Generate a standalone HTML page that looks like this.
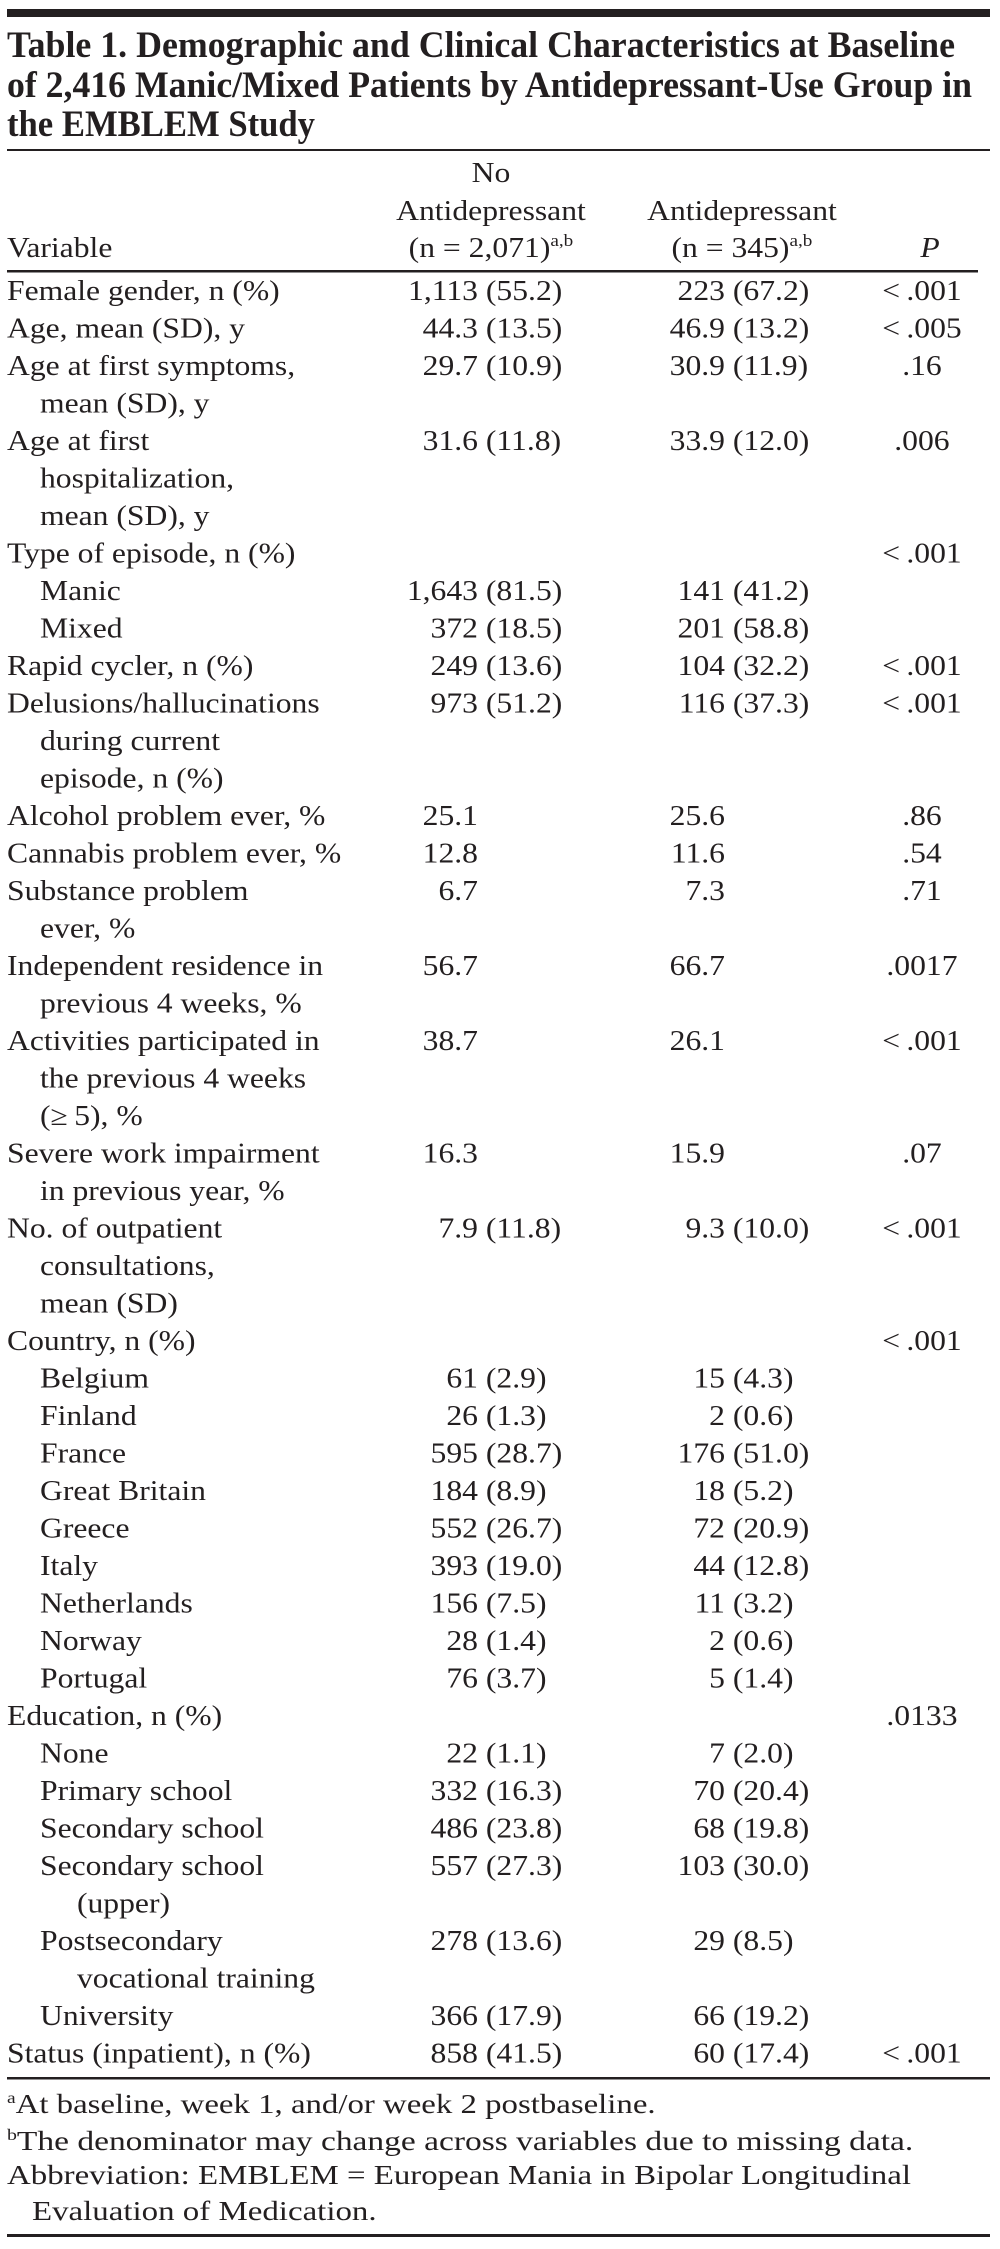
<!DOCTYPE html>
<html><head><meta charset="utf-8"><style>
html,body{margin:0;padding:0;background:#fff;}
svg{display:block;}
text{font-family:"Liberation Serif",serif;fill:#231f20;}
.b{font-size:28px;}
.f{font-size:27px;}
</style></head><body>
<svg width="1000" height="2249" viewBox="0 0 1000 2249">
<rect x="7" y="9" width="983" height="8" fill="#231f20"/>
<g font-weight="bold" font-size="37">
<text x="7" y="57" textLength="948" lengthAdjust="spacingAndGlyphs">Table 1. Demographic and Clinical Characteristics at Baseline</text>
<text x="7" y="97" textLength="965" lengthAdjust="spacingAndGlyphs">of 2,416 Manic/Mixed Patients by Antidepressant-Use Group in</text>
<text x="7" y="136" textLength="308" lengthAdjust="spacingAndGlyphs">the EMBLEM Study</text>
</g>
<rect x="7" y="149" width="983" height="2" fill="#231f20"/>
<rect x="7" y="270" width="971" height="2.5" fill="#231f20"/>
<rect x="7" y="2077" width="983" height="2.5" fill="#231f20"/>
<rect x="7" y="2234" width="983" height="3" fill="#231f20"/>

<g transform="scale(1.13 1)" class="b">
<g>
<text x="6.2" y="257">Variable</text>
<text x="434.5" y="182" text-anchor="middle">No</text>
<text x="434.5" y="220" text-anchor="middle">Antidepressant</text>
<text x="434.5" y="257" text-anchor="middle">(n = 2,071)<tspan font-size="17" dy="-11">a,b</tspan></text>
<text x="656.6" y="220" text-anchor="middle">Antidepressant</text>
<text x="656.6" y="257" text-anchor="middle">(n = 345)<tspan font-size="17" dy="-11">a,b</tspan></text>
<text x="823" y="257" text-anchor="middle" font-style="italic">P</text>
</g>
<g id="rows"></g>
</g>

<g transform="scale(1.13 1)" class="f">
<text x="6.2" y="2113" textLength="574" lengthAdjust="spacingAndGlyphs"><tspan font-size="16" dy="-10">a</tspan><tspan dy="10">At baseline, week 1, and/or week 2 postbaseline.</tspan></text>
<text x="6.2" y="2150" textLength="802" lengthAdjust="spacingAndGlyphs"><tspan font-size="16" dy="-10">b</tspan><tspan dy="10">The denominator may change across variables due to missing data.</tspan></text>
<text x="6.2" y="2184" textLength="800" lengthAdjust="spacingAndGlyphs">Abbreviation: EMBLEM = European Mania in Bipolar Longitudinal</text>
<text x="28.3" y="2220" textLength="305" lengthAdjust="spacingAndGlyphs">Evaluation of Medication.</text>
</g>
</svg>
<script>
// rows: [label, indent(0,1,2), col1 first, col1 paren, col2 first, col2 paren, p]
var labels=["Female gender, n (%)","Age, mean (SD), y","Age at first symptoms,","mean (SD), y","Age at first","hospitalization,","mean (SD), y","Type of episode, n (%)","Manic","Mixed","Rapid cycler, n (%)","Delusions/hallucinations","during current","episode, n (%)","Alcohol problem ever, %","Cannabis problem ever, %","Substance problem","ever, %","Independent residence in","previous 4 weeks, %","Activities participated in","the previous 4 weeks","(\u2265\u20095), %","Severe work impairment","in previous year, %","No. of outpatient","consultations,","mean (SD)","Country, n (%)","Belgium","Finland","France","Great Britain","Greece","Italy","Netherlands","Norway","Portugal","Education, n (%)","None","Primary school","Secondary school","Secondary school","(upper)","Postsecondary","vocational training","University","Status (inpatient), n (%)"];
var indents=[0,0,0,1,0,1,1,0,1,1,0,0,1,1,0,0,0,1,0,1,0,1,1,0,1,0,1,1,0,1,1,1,1,1,1,1,1,1,0,1,1,1,1,2,1,2,1,0];
var c1=["1,113 (55.2)","44.3 (13.5)","29.7 (10.9)","","31.6 (11.8)","","","","1,643 (81.5)","372 (18.5)","249 (13.6)","973 (51.2)","","","25.1","12.8","6.7","","56.7","","38.7","","","16.3","","7.9 (11.8)","","","","61 (2.9)","26 (1.3)","595 (28.7)","184 (8.9)","552 (26.7)","393 (19.0)","156 (7.5)","28 (1.4)","76 (3.7)","","22 (1.1)","332 (16.3)","486 (23.8)","557 (27.3)","","278 (13.6)","","366 (17.9)","858 (41.5)"];
var c2=["223 (67.2)","46.9 (13.2)","30.9 (11.9)","","33.9 (12.0)","","","","141 (41.2)","201 (58.8)","104 (32.2)","116 (37.3)","","","25.6","11.6","7.3","","66.7","","26.1","","","15.9","","9.3 (10.0)","","","","15 (4.3)","2 (0.6)","176 (51.0)","18 (5.2)","72 (20.9)","44 (12.8)","11 (3.2)","2 (0.6)","5 (1.4)","","7 (2.0)","70 (20.4)","68 (19.8)","103 (30.0)","","29 (8.5)","","66 (19.2)","60 (17.4)"];
var pv=["<.001","<.005",".16","",".006","","","<.001","","","<.001","<.001","","","",".86",".54",".71","",".0017","","<.001","",".07","","<.001","","","<.001","","","","","","","","","",".0133","","","","","","","","","<.001"];
pv[14]=".86";pv[15]=".54";pv[16]=".71";pv[17]="";pv[18]=".0017";pv[19]="";pv[20]="<.001";pv[21]="";pv[22]="";pv[23]=".07";pv[24]="";pv[25]="<.001";
var NS="http://www.w3.org/2000/svg";
var g=document.getElementById("rows");
var S=1.13, indX=[7,40,77], A1=478, A2=725, PX=922;
function mk(x,y,txt,anchor){
  var t=document.createElementNS(NS,"text");
  t.setAttribute("x",(x/S).toFixed(1));
  t.setAttribute("y",y);
  if(anchor)t.setAttribute("text-anchor",anchor);
  t.textContent=txt;
  g.appendChild(t);
  return t;
}
function cell(v,A,y,name){
  if(!v)return;
  var m=v.indexOf(" (");
  var first=m<0?v:v.slice(0,m);
  var t1=mk(A,y,first,"end");
  
  
  if(m>=0){
    var t2=mk(A,y,"\u00a0"+v.slice(m+1),"start");
    
    
  }
}
for(var i=0;i<labels.length;i++){
  var y=300+i*37.5;
  var t=mk(indX[indents[i]],y,labels[i]);
  
  
  cell(c1[i],A1,y,'no-antidepressant-value');
  cell(c2[i],A2,y,'antidepressant-value');
  if(pv[i]){
    var tp=mk(PX,y,pv[i].replace("<","<\u2009"),"middle");
    
    
  }
}
</script>
</body></html>
